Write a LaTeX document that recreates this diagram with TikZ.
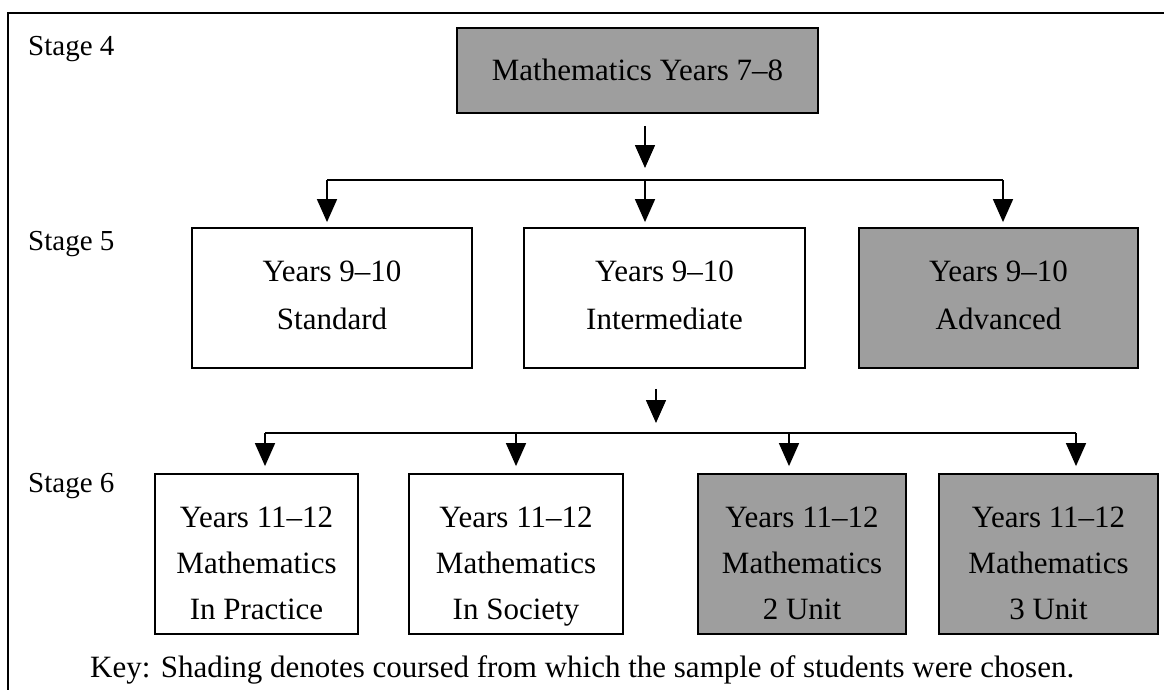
\documentclass[tikz,border=0pt]{standalone}
\usepackage{fontspec}
\setmainfont{Liberation Serif}
\usetikzlibrary{arrows.meta}
\definecolor{shade}{RGB}{158,158,158}
\begin{document}
\begin{tikzpicture}[x=1pt,y=-1pt,
  course/.style={draw, line width=1.8pt, rectangle, inner sep=0pt, align=center,
    font=\fontsize{31}{48}\selectfont},
  picked/.style={course, fill=shade},
  fifth/.style={minimum height=140pt},
  sixth/.style={minimum height=160pt, font=\fontsize{31}{46}\selectfont},
  stagelbl/.style={anchor=base west, inner sep=0pt, font=\fontsize{29}{34}\selectfont},
  flow/.style={line width=1.6pt, -{Triangle[length=23pt,width=20pt]}},
  bus/.style={line width=1.6pt},
]
\useasboundingbox (0,0) rectangle (1164,690);

% outer frame
\draw[line width=2pt] (1164,13) -- (8,13) -- (8,690);

% stage labels
\node[stagelbl] (s4) at (28,56) {Stage 4};
\node[stagelbl] (s5) at (28,250) {Stage 5};
\node[stagelbl] (s6) at (28,492) {Stage 6};

% stage 4
\node[picked, minimum width=361pt, minimum height=85pt, text height=21pt, text depth=0pt]
  (y78) at (637.5,70.5) {Mathematics Years 7–8};

% stage 5
\node[course, fifth, minimum width=280pt] (std) at (332,298)
  {\rule{0pt}{24pt}Years 9–10\\Standard\rule[-10pt]{0pt}{10pt}};
\node[course, fifth, minimum width=281pt] (int) at (664.5,298)
  {\rule{0pt}{24pt}Years 9–10\\Intermediate\rule[-10pt]{0pt}{10pt}};
\node[picked, fifth, minimum width=279pt] (adv) at (998.5,298)
  {\rule{0pt}{24pt}Years 9–10\\Advanced\rule[-10pt]{0pt}{10pt}};

% stage 6
\node[course, sixth, minimum width=203pt] (prac) at (256.5,554)
  {\rule{0pt}{52pt}Years 11–12\\Mathematics\\In Practice\rule[-14pt]{0pt}{14pt}};
\node[course, sixth, minimum width=214pt] (soc) at (516,554)
  {\rule{0pt}{52pt}Years 11–12\\Mathematics\\In Society\rule[-14pt]{0pt}{14pt}};
\node[picked, sixth, minimum width=208pt] (two) at (802,554)
  {\rule{0pt}{52pt}Years 11–12\\Mathematics\\2 Unit\rule[-14pt]{0pt}{14pt}};
\node[picked, sixth, minimum width=219pt] (three) at (1048.5,554)
  {\rule{0pt}{52pt}Years 11–12\\Mathematics\\3 Unit\rule[-14pt]{0pt}{14pt}};

% stage 4 -> stage 5
\coordinate (b1a) at (327,180);
\coordinate (b1b) at (645,180);
\coordinate (b1c) at (1003,180);
\draw[flow, shorten <=12pt, shorten >=12pt] (y78.south -| b1b) -- (b1b);
\draw[bus] (b1a) -- (b1c);
\draw[flow, shorten >=5pt] (b1a) -- (std.north -| b1a);
\draw[flow, shorten >=5pt] (b1b) -- (int.north -| b1b);
\draw[flow, shorten >=5pt] (b1c) -- (adv.north -| b1c);

% stage 5 -> stage 6
\coordinate (b2m) at (656,433);
\coordinate (b2a) at (265,433);
\coordinate (b2b) at (516,433);
\coordinate (b2c) at (789,433);
\coordinate (b2d) at (1076,433);
\draw[flow, shorten <=20pt, shorten >=10pt] (int.south -| b2m) -- (b2m);
\draw[bus] (b2a) -- (b2d);
\draw[flow, shorten >=7pt] (b2a) -- (prac.north -| b2a);
\draw[flow, shorten >=7pt] (b2b) -- (soc.north -| b2b);
\draw[flow, shorten >=7pt] (b2c) -- (two.north -| b2c);
\draw[flow, shorten >=7pt] (b2d) -- (three.north -| b2d);

% key
\node[anchor=base west, inner sep=0pt, font=\fontsize{31}{36}\selectfont] (key) at (90,677)
  {Key: Shading denotes coursed from which the sample of students were chosen.};
\end{tikzpicture}
\end{document}
